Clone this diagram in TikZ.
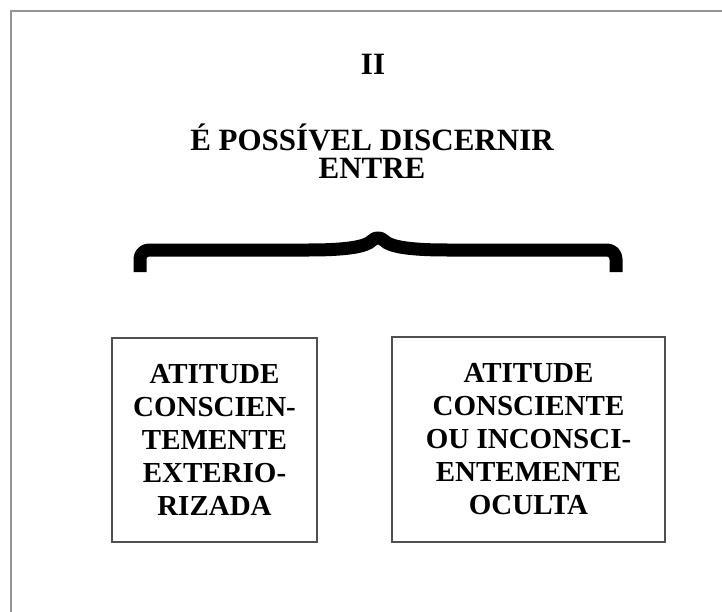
\documentclass[tikz,border=0pt]{standalone}
\usepackage{fontspec}
\setmainfont{Liberation Serif}
\usepackage{tikz}
\usetikzlibrary{positioning}

\tikzset{
  framestroke/.style={draw={rgb, 255:red, 150; green, 150; blue, 150}, line width=1.4pt},
  boxnode/.style={draw={rgb, 255:red, 80; green, 80; blue, 80}, line width=1.1pt, inner sep=0pt, align=center,
    font=\fontsize{29}{33}\selectfont\bfseries},
  titlefont/.style={inner sep=0pt, anchor=base, font=\fontsize{31}{28}\selectfont\bfseries},
  bracestroke/.style={line width=13pt, line join=round, rounded corners=9pt}
}

\begin{document}
\begin{tikzpicture}[x=1pt,y=1pt,yscale=-1,xscale=1]
\useasboundingbox (0,0) rectangle (722,612);

%Straight Lines [frame top and left]
\draw [framestroke] (722,11) -- (11,11) -- (11,612) ;

%Text [title]
\node [titlefont] (num) at (373,75) {II};
\node [titlefont] (titleA) at (372,151) {É POSSÍVEL DISCERNIR};
\node [titlefont] (titleB) at (372,179) {ENTRE};

%Curve Lines [brace]
\draw [bracestroke] (140,272) |- (300,250) .. controls (345,250) and (366,247) .. (378,234) .. controls (390,247) and (411,250) .. (456,250) -| (616,272) ;

%Shape: Rectangle [left box]
\node [boxnode, minimum width=205, minimum height=204] (outer) at (214.5,440) {ATITUDE\\CONSCIEN-\\TEMENTE\\EXTERIO-\\RIZADA};
%Shape: Rectangle [right box]
\node [boxnode, minimum width=273, minimum height=205] (hidden) at (528.5,439.5) {ATITUDE\\CONSCIENTE\\OU INCONSCI-\\ENTEMENTE\\OCULTA};

\end{tikzpicture}
\end{document}
